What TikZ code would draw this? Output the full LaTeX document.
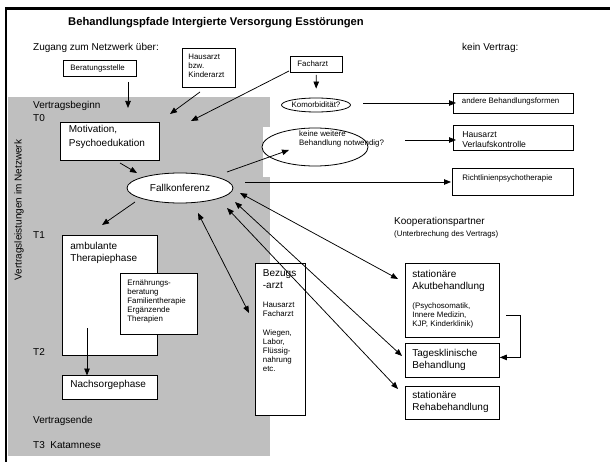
\documentclass[tikz,border=0pt]{standalone}
\usepackage{fontspec}
\setmainfont{Liberation Sans}
\usetikzlibrary{positioning, shapes.geometric, arrows.meta}

\newcommand{\regfont}{\fontsize{10}{12}\selectfont}
\newcommand{\smfont}{\fontsize{7.9}{9}\selectfont}
\newcommand{\midfont}{\fontsize{8.6}{10}\selectfont}

\begin{document}
\begin{tikzpicture}[x=1pt, y=-1pt,
    box/.style={draw, line width=0.8pt, fill=white, anchor=north west, inner xsep=7pt, inner ysep=4pt, font=\regfont},
    ell/.style={draw, ellipse, line width=0.8pt, fill=white, inner sep=0pt},
    lbl/.style={anchor=base west, inner sep=0pt, font=\regfont},
    arr/.style={-{Triangle[length=7pt,width=5.5pt]}, line width=0.75pt},
    darr/.style={{Triangle[length=7pt,width=5.5pt]}-{Triangle[length=7pt,width=5.5pt]}, line width=0.75pt}]
    \useasboundingbox (0,0) rectangle (610,462);

    % Netzwerk (grau) und Rahmen
    \fill[black!25] (8,97) rectangle (270,456);
    \fill[white] (263,127) rectangle (272,177);
    \draw[line width=2.5pt] (6,462) -- (6,8.5) -- (610,8.5);

    \node[lbl, font=\fontsize{11.2}{13}\selectfont\bfseries] (title) at (68,26) {Behandlungspfade Intergierte Versorgung Esstörungen};
    \node[lbl] (zugang) at (33,50.5) {Zugang zum Netzwerk über:};
    \node[lbl] (keinv) at (462,50.5) {kein Vertrag:};
    \node[lbl] (vbeg) at (33,109) {Vertragsbeginn};
    \node[lbl] (t0) at (33,121.5) {T0};
    \node[lbl] (t1) at (33,239) {T1};
    \node[lbl] (t2) at (33,355) {T2};
    \node[lbl] (vend) at (33,423.5) {Vertragsende};
    \node[lbl] (t3) at (33,448.5) {T3\ \ Katamnese};
    \node[lbl] (koop) at (394,225) {Kooperationspartner};
    \node[lbl, font=\smfont] (unterbr) at (394,236.5) {(Unterbrechung des Vertrags)};
    \node[rotate=90, inner sep=0pt, font=\regfont] (vleist) at (19,210) {Vertragsleistungen im Netzwerk};

    % Zugang
    \node[box, font=\smfont] (berat) at (63,60) {\parbox[t][8pt][t]{59pt}{Beratungsstelle}};
    \node[box, font=\smfont, inner xsep=6pt, inner ysep=6pt] (haus) at (182,48) {\parbox[t][27pt][t]{41pt}{Hausarzt\\bzw.\\Kinderarzt}};
    \node[box, font=\smfont] (fach) at (290,56) {\parbox[t][8pt][t]{38pt}{Facharzt}};

    % Vertragsleistungen
    \node[box, inner xsep=8.5pt, inner ysep=2.5pt] (motiv) at (60,122) {\parbox[t][33pt][t]{82pt}{Motivation,\\[2pt]Psychoedukation}};
    \node[box, inner xsep=8pt, inner ysep=7pt] (amb) at (62,235) {\parbox[t][106pt][t]{79pt}{ambulante\\Therapiephase}};
    \node[box, font=\smfont, inner ysep=6pt] (ern) at (120,273) {\parbox[t][49pt][t]{63pt}{Ernährungs-\\beratung\\Familientherapie\\Ergänzende\\Therapien}};
    \node[box, inner xsep=8pt, inner ysep=5pt] (nach) at (62,375) {\parbox[t][14pt][t]{79pt}{Nachsorgephase}};
    \node[box, inner xsep=7.5pt, inner ysep=6.4pt] (bez) at (255,263) {\parbox[t][139pt][t]{35pt}{Bezugs\\-arzt\par\vspace{10pt}{\smfont Hausarzt\\Facharzt\par}\vspace{10pt}{\smfont Wiegen,\\Labor,\\Flüssig-\\nahrung\\etc.\par}}};

    % Kooperationspartner
    \node[box, inner ysep=6.4pt] (akut) at (405,263) {\parbox[t][61pt][t]{80pt}{stationäre\\Akutbehandlung\par\vspace{10pt}{\smfont (Psychosomatik,\\Innere Medizin,\\KJP, Kinderklinik)\par}}};
    \node[box, inner ysep=6pt] (tages) at (405,343) {\parbox[t][22pt][t]{80pt}{Tagesklinische\\Behandlung}};
    \node[box, inner ysep=5.2pt] (reha) at (405,386) {\parbox[t][22.6pt][t]{80pt}{stationäre\\Rehabehandlung}};

    % kein Vertrag
    \node[box, font=\smfont, inner xsep=8.5pt] (andere) at (453,93) {\parbox[t][12pt][t]{103pt}{andere Behandlungsformen}};
    \node[box, font=\midfont, inner xsep=9pt, inner ysep=5.7pt] (hausv) at (453,125) {\parbox[t][13.6pt][t]{102pt}{Hausarzt\\Verlaufskontrolle}};
    \node[box, font=\smfont, inner xsep=10pt, inner ysep=5.9pt] (richt) at (452,168) {\parbox[t][15.2pt][t]{101pt}{Richtlinienpsychotherapie}};

    \node[ell, minimum width=66pt, minimum height=14pt, font=\smfont] (komor) at (316,105) {Komorbidität?};
    \node[ell, minimum width=106pt, minimum height=38pt] (keine) at (315,147) {};
    \node[anchor=north west, inner sep=0pt, font=\smfont, align=left] (keinetxt) at (299,131) {keine weitere\\Behandlung notwendig?};
    \node[ell, minimum width=106pt, minimum height=30pt, font=\regfont] (fallk) at (180,188) {Fallkonferenz};

    % Pfeile
    \coordinate (zb1) at (128,82);  \coordinate (zb2) at (128,108);
    \coordinate (zh1) at (200,92);  \coordinate (zh2) at (170,114);
    \coordinate (zf1) at (289,71);  \coordinate (zf2) at (191,121);
    \coordinate (kv1) at (363,103); \coordinate (kv2) at (456,103);
    \coordinate (kw1) at (405,140); \coordinate (kw2) at (456,140);
    \coordinate (fr1) at (245,182); \coordinate (fr2) at (451,182);
    \coordinate (mf1) at (120,163); \coordinate (mf2) at (137,173);
    \coordinate (fk1) at (227,172); \coordinate (fk2) at (289,150);
    \coordinate (fa1) at (135,202); \coordinate (fa2) at (102,225);
    \coordinate (an1) at (87,328);  \coordinate (an2) at (87,375.5);
    \coordinate (da1) at (240,193); \coordinate (da2) at (398,279);
    \coordinate (dt1) at (235,202); \coordinate (dt2) at (402,356);
    \coordinate (dr1) at (227,208); \coordinate (dr2) at (398,389);
    \coordinate (db1) at (198,213); \coordinate (db2) at (249,313);
    \coordinate (el1) at (506,315);

    \draw[arr] (zb1) -- (zb2);
    \draw[arr] (zh1) -- (zh2);
    \draw[arr] (zf1) -- (zf2);
    \draw[arr, shorten <=2pt, shorten >=9pt] (fach) -- (komor);
    \draw[arr] (kv1) -- (kv2);
    \draw[arr] (kw1) -- (kw2);
    \draw[arr] (fr1) -- (fr2);
    \draw[arr] (mf1) -- (mf2);
    \draw[arr] (fk1) -- (fk2);
    \draw[arr] (fa1) -- (fa2);
    \draw[arr] (an1) -- (an2);
    \draw[darr] (da1) -- (da2);
    \draw[darr] (dt1) -- (dt2);
    \draw[darr] (dr1) -- (dr2);
    \draw[darr] (db1) -- (db2);
    \draw[arr] (el1) -- ++(14,0) |- ([yshift=3pt]tages.east);
\end{tikzpicture}
\end{document}
